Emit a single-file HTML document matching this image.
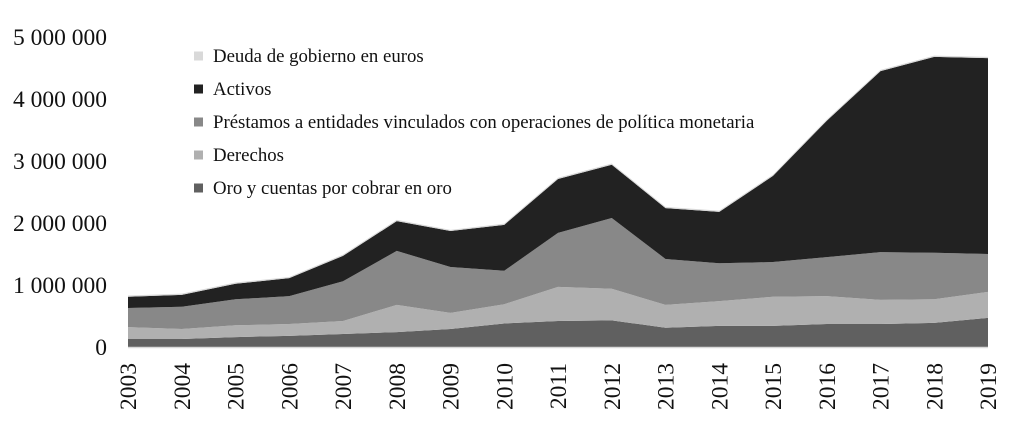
<!DOCTYPE html>
<html><head><meta charset="utf-8"><style>
body{margin:0;background:#fff;}
svg text{font-family:"Liberation Serif","DejaVu Serif",serif;fill:#111;}
</style></head><body>
<svg id="c" width="1011" height="426"></svg>
<script>
const years=["2003","2004","2005","2006","2007","2008","2009","2010","2011","2012","2013","2014","2015","2016","2017","2018","2019"];
const oro=[130000,130000,160000,180000,210000,240000,290000,380000,420000,430000,310000,340000,340000,370000,370000,390000,470000];
const derechos=[190000,160000,190000,190000,210000,440000,260000,310000,550000,510000,370000,400000,470000,450000,390000,380000,420000];
const prestamos=[310000,360000,420000,450000,640000,870000,740000,540000,870000,1140000,740000,610000,560000,630000,770000,750000,610000];
const activos=[180000,190000,250000,290000,410000,480000,580000,740000,870000,860000,820000,830000,1390000,2200000,2920000,3160000,3160000];
const deuda=[20000,20000,20000,20000,20000,20000,20000,20000,20000,20000,20000,20000,20000,20000,20000,20000,20000];
const yTicks=[0,1000000,2000000,3000000,4000000,5000000];
const yTickLabels=["0","1 000 000","2 000 000","3 000 000","4 000 000","5 000 000"];
const seriesNames=["Deuda de gobierno en euros","Activos","Préstamos a entidades vinculados con operaciones de política monetaria","Derechos","Oro y cuentas por cobrar en oro"];

const NS="http://www.w3.org/2000/svg";
const svg=document.getElementById('c');
const FF='"Liberation Serif","DejaVu Serif",serif';
const x0=128,x1=988,yBase=347,pxPerUnit=62/1000000;
function xs(i){return x0+(x1-x0)*i/(years.length-1);}
function ys(v){return yBase-v*pxPerUnit;}
function mk(t,a){const e=document.createElementNS(NS,t);for(const k in a)e.setAttribute(k,a[k]);svg.appendChild(e);return e;}

const layers=[{d:oro,c:"#606060",n:"area-oro"},{d:derechos,c:"#b0b0b0",n:"area-derechos"},{d:prestamos,c:"#888888",n:"area-prestamos"},{d:activos,c:"#222222",n:"area-activos"},{d:deuda,c:"#d9d9d9",n:"area-deuda"}];
let cum=years.map(()=>0);
layers.forEach(L=>{
  const lo=cum.slice();const hi=cum.map((v,i)=>v+L.d[i]);
  let p="M"+hi.map((v,i)=>xs(i)+","+ys(v)).join(" L");
  for(let i=years.length-1;i>=0;i--)p+=" L"+xs(i)+","+ys(lo[i]);
  p+=" Z";
  const e=mk('path',{d:p,fill:L.c});
  
  
  cum=hi;
});
const ax=mk('line',{x1:x0,x2:x1,y1:yBase+0.5,y2:yBase+0.5,stroke:"#d9d9d9","stroke-width":1.5});



yTicks.forEach((v,i)=>{
  const t=mk('text',{x:107,y:ys(v)+8,"text-anchor":"end","font-size":23.5,"font-family":FF});
  t.textContent=yTickLabels[i];
  
  
});
years.forEach((y,i)=>{
  const t=mk('text',{x:0,y:0,"text-anchor":"end","font-size":23.5,"font-family":FF,transform:"translate("+(xs(i)+8)+","+363+") rotate(-90)"});
  t.textContent=y;
  
  
});
const legColors=["#d9d9d9","#222222","#888888","#b0b0b0","#606060"];
seriesNames.forEach((n,i)=>{
  const cy=56+i*33;
  const r=mk('rect',{x:194,y:cy-4.5,width:9,height:9,fill:legColors[i]});
  
  
  const t=mk('text',{x:213,y:cy+6,"font-size":18.8,"font-family":FF});
  t.textContent=n;
  
  
});
</script>
</body></html>
